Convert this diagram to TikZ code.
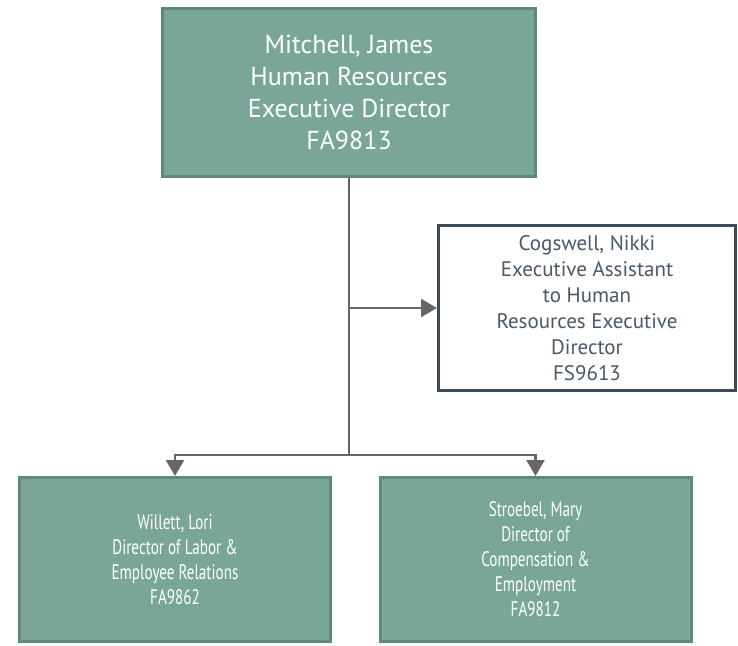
\documentclass[tikz,border=0pt]{standalone}
\usepackage{fontspec}
\setmainfont{PT Sans}
\newfontfamily\narrowfont[FakeStretch=0.72]{PT Sans}
\usetikzlibrary{positioning, arrows.meta, calc}
\definecolor{hrfill}{HTML}{7AA69A}
\definecolor{hrline}{HTML}{5E8A7D}
\definecolor{asstline}{HTML}{3E4A56}
\definecolor{assttext}{HTML}{4A5868}
\definecolor{linkgray}{HTML}{666666}

\begin{document}
\begin{tikzpicture}[x=1pt, y=-1pt, node distance=20pt]
    % Define node styles
    \tikzstyle{head} = [rectangle, draw=hrline, line width=3pt, fill=hrfill, text=white, minimum width=373pt, minimum height=168pt, align=center, font=\fontsize{26}{32}\selectfont]
    \tikzstyle{asst} = [rectangle, draw=asstline, line width=3pt, fill=white, text=assttext, minimum width=297pt, minimum height=165pt, align=center, font=\fontsize{21}{26}\selectfont]
    \tikzstyle{report} = [rectangle, draw=hrline, line width=3pt, fill=hrfill, text=white, minimum width=311pt, minimum height=164pt, align=center, font=\narrowfont\fontsize{21}{25}\selectfont]
    \tikzstyle{link} = [draw=linkgray, line width=2.5pt, -{Triangle[length=16pt, width=18pt]}]

    \useasboundingbox (0,0) rectangle (738,645);

    % Executive director (top)
    \node[head] (mitchell) at (349,92.5) {Mitchell, James\\Human Resources\\Executive Director\\FA9813};

    % Executive assistant (right)
    \node[asst] (cogswell) at (587,308) {Cogswell, Nikki\\Executive Assistant\\to Human\\Resources Executive\\Director\\FS9613};

    % Direct reports (bottom row)
    \node[report] (willett) at (175,559.5) {Willett, Lori\\Director of Labor \&\\Employee Relations\\FA9862};
    \node[report] (stroebel) at (535.5,559.5) {Stroebel, Mary\\Director of\\Compensation \&\\Employment\\FA9812};

    % Connectors
    \coordinate (split) at ($(mitchell.south |- willett.north)+(0,-21)$);
    \draw[draw=linkgray, line width=2.5pt] (mitchell.south) -- (split);
    \draw[link] (mitchell.south |- cogswell.west) -- (cogswell.west);
    \draw[link] (split) -| (willett.north);
    \draw[link] (split) -| (stroebel.north);
\end{tikzpicture}
\end{document}
